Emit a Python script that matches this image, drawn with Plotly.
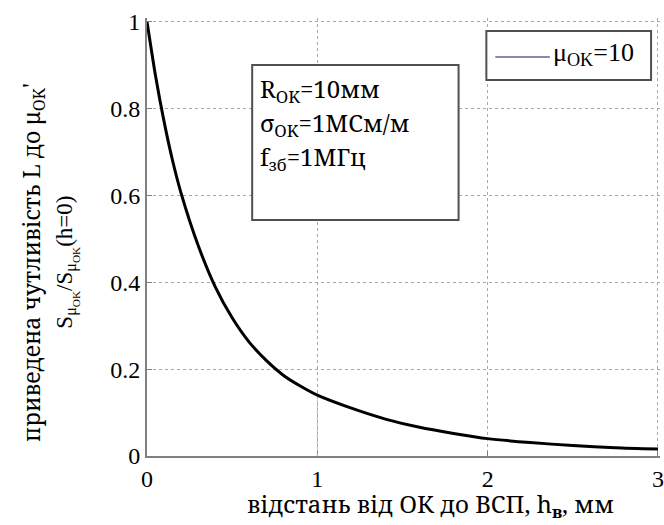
import plotly.graph_objects as go

# data
h_mm = [0, 0.05, 0.1, 0.15, 0.2, 0.3, 0.4, 0.5, 0.6, 0.7, 0.8, 0.9, 1.0,
        1.2, 1.4, 1.6, 1.8, 2.0, 2.25, 2.5, 2.75, 3.0]
sens = [1.0, 0.875, 0.77, 0.68, 0.605, 0.485, 0.39, 0.318, 0.262, 0.22, 0.186, 0.161, 0.14,
        0.11, 0.085, 0.066, 0.052, 0.04, 0.031, 0.024, 0.019, 0.016]
x_ticks = [0, 1, 2, 3]
y_ticks = [0, 0.2, 0.4, 0.6, 0.8, 1]
y_tick_labels = ["0", "0.2", "0.4", "0.6", "0.8", "1"]

FONT = "'Liberation Serif', serif"
FONT_CYR = "'Noto Serif', 'Liberation Serif', serif"

fig = go.Figure()
fig.add_trace(go.Scatter(x=h_mm, y=sens, mode="lines",
                         line=dict(color="black", width=3, shape="spline", smoothing=0.7),
                         showlegend=False))

fig.update_layout(
    width=664, height=525,
    margin=dict(l=147, r=0, t=18, b=69),
    paper_bgcolor="white", plot_bgcolor="white",
    font=dict(family=FONT, size=23, color="black"),
    xaxis=dict(range=[0, 3.012], tickvals=x_ticks, ticks="inside", ticklen=5,
               tickcolor="#808080", showline=True, linecolor="#808080", linewidth=2,
               showgrid=True, gridcolor="#a8a8a8", griddash="dot", gridwidth=1,
               zeroline=False, ticklabeloverflow="allow",
               tickfont=dict(size=24, family=FONT)),
    yaxis=dict(range=[0, 1.008], tickvals=y_ticks, ticktext=y_tick_labels, ticks="inside",
               ticklen=5, tickcolor="#808080", showline=True, linecolor="#808080",
               linewidth=2, showgrid=True, gridcolor="#a8a8a8", griddash="dot",
               gridwidth=1, zeroline=False, tickfont=dict(size=24, family=FONT)),
)

PW, PH = 517, 438  # plot area size in px
def px(xp):
    return (xp - 147) / PW
def py(yp):
    return (456 - yp) / PH

# faint green marker line at x=1
fig.add_shape(type="line", xref="x", yref="y", x0=1, x1=1, y0=0, y1=0.13,
              line=dict(color="#9fd49f", width=1, dash="dot"))

# axis titles
fig.add_annotation(xref="paper", yref="paper", x=px(433), y=py(505),
                   xanchor="center", yanchor="middle",
                   text="відстань від ОК до ВСП, h<sub><b>в</b></sub>, мм",
                   showarrow=False, font=dict(size=24, family=FONT_CYR))
fig.add_annotation(xref="paper", x=px(31), yref="paper", y=py(262),
                   xanchor="center", yanchor="middle", textangle=-90,
                   text="приведена чутливість L до μ<sub>OK</sub>'",
                   showarrow=False, font=dict(size=23, family=FONT_CYR))
fig.add_annotation(xref="paper", x=px(66), yref="paper", y=py(262),
                   xanchor="center", yanchor="middle", textangle=-90,
                   text="S<sub>μ<sub>OK</sub></sub>/S<sub>μ<sub>OK</sub></sub>(h=0)",
                   showarrow=False, font=dict(size=23, family=FONT))

# parameter text box
fig.add_shape(type="rect", xref="paper", yref="paper",
              x0=px(253), x1=px(461), y0=py(220), y1=py(65),
              line=dict(color="#505050", width=2), fillcolor="white", layer="above")
params = ["R<sub>OK</sub>=10мм", "σ<sub>OK</sub>=1МСм/м", "f<sub>зб</sub>=1МГц"]
for i, t in enumerate(params):
    fig.add_annotation(xref="paper", yref="paper", x=px(259),
                       y=py(90 + 34 * i), xanchor="left", yanchor="middle",
                       text=t, showarrow=False, font=dict(size=24, family=FONT_CYR))

# legend box
fig.add_shape(type="rect", xref="paper", yref="paper",
              x0=px(489), x1=px(655), y0=py(80), y1=py(31),
              line=dict(color="#505050", width=2), fillcolor="white", layer="above")
fig.add_shape(type="line", xref="paper", yref="paper",
              x0=px(498), x1=px(553), y0=py(57), y1=py(57),
              line=dict(color="#8a88b0", width=2), layer="above")
fig.add_annotation(xref="paper", yref="paper", x=px(554), y=py(54),
                   xanchor="left", yanchor="middle", text="μ<sub>OK</sub>=10",
                   showarrow=False, font=dict(size=26, family=FONT))

fig.write_html("out.html")
